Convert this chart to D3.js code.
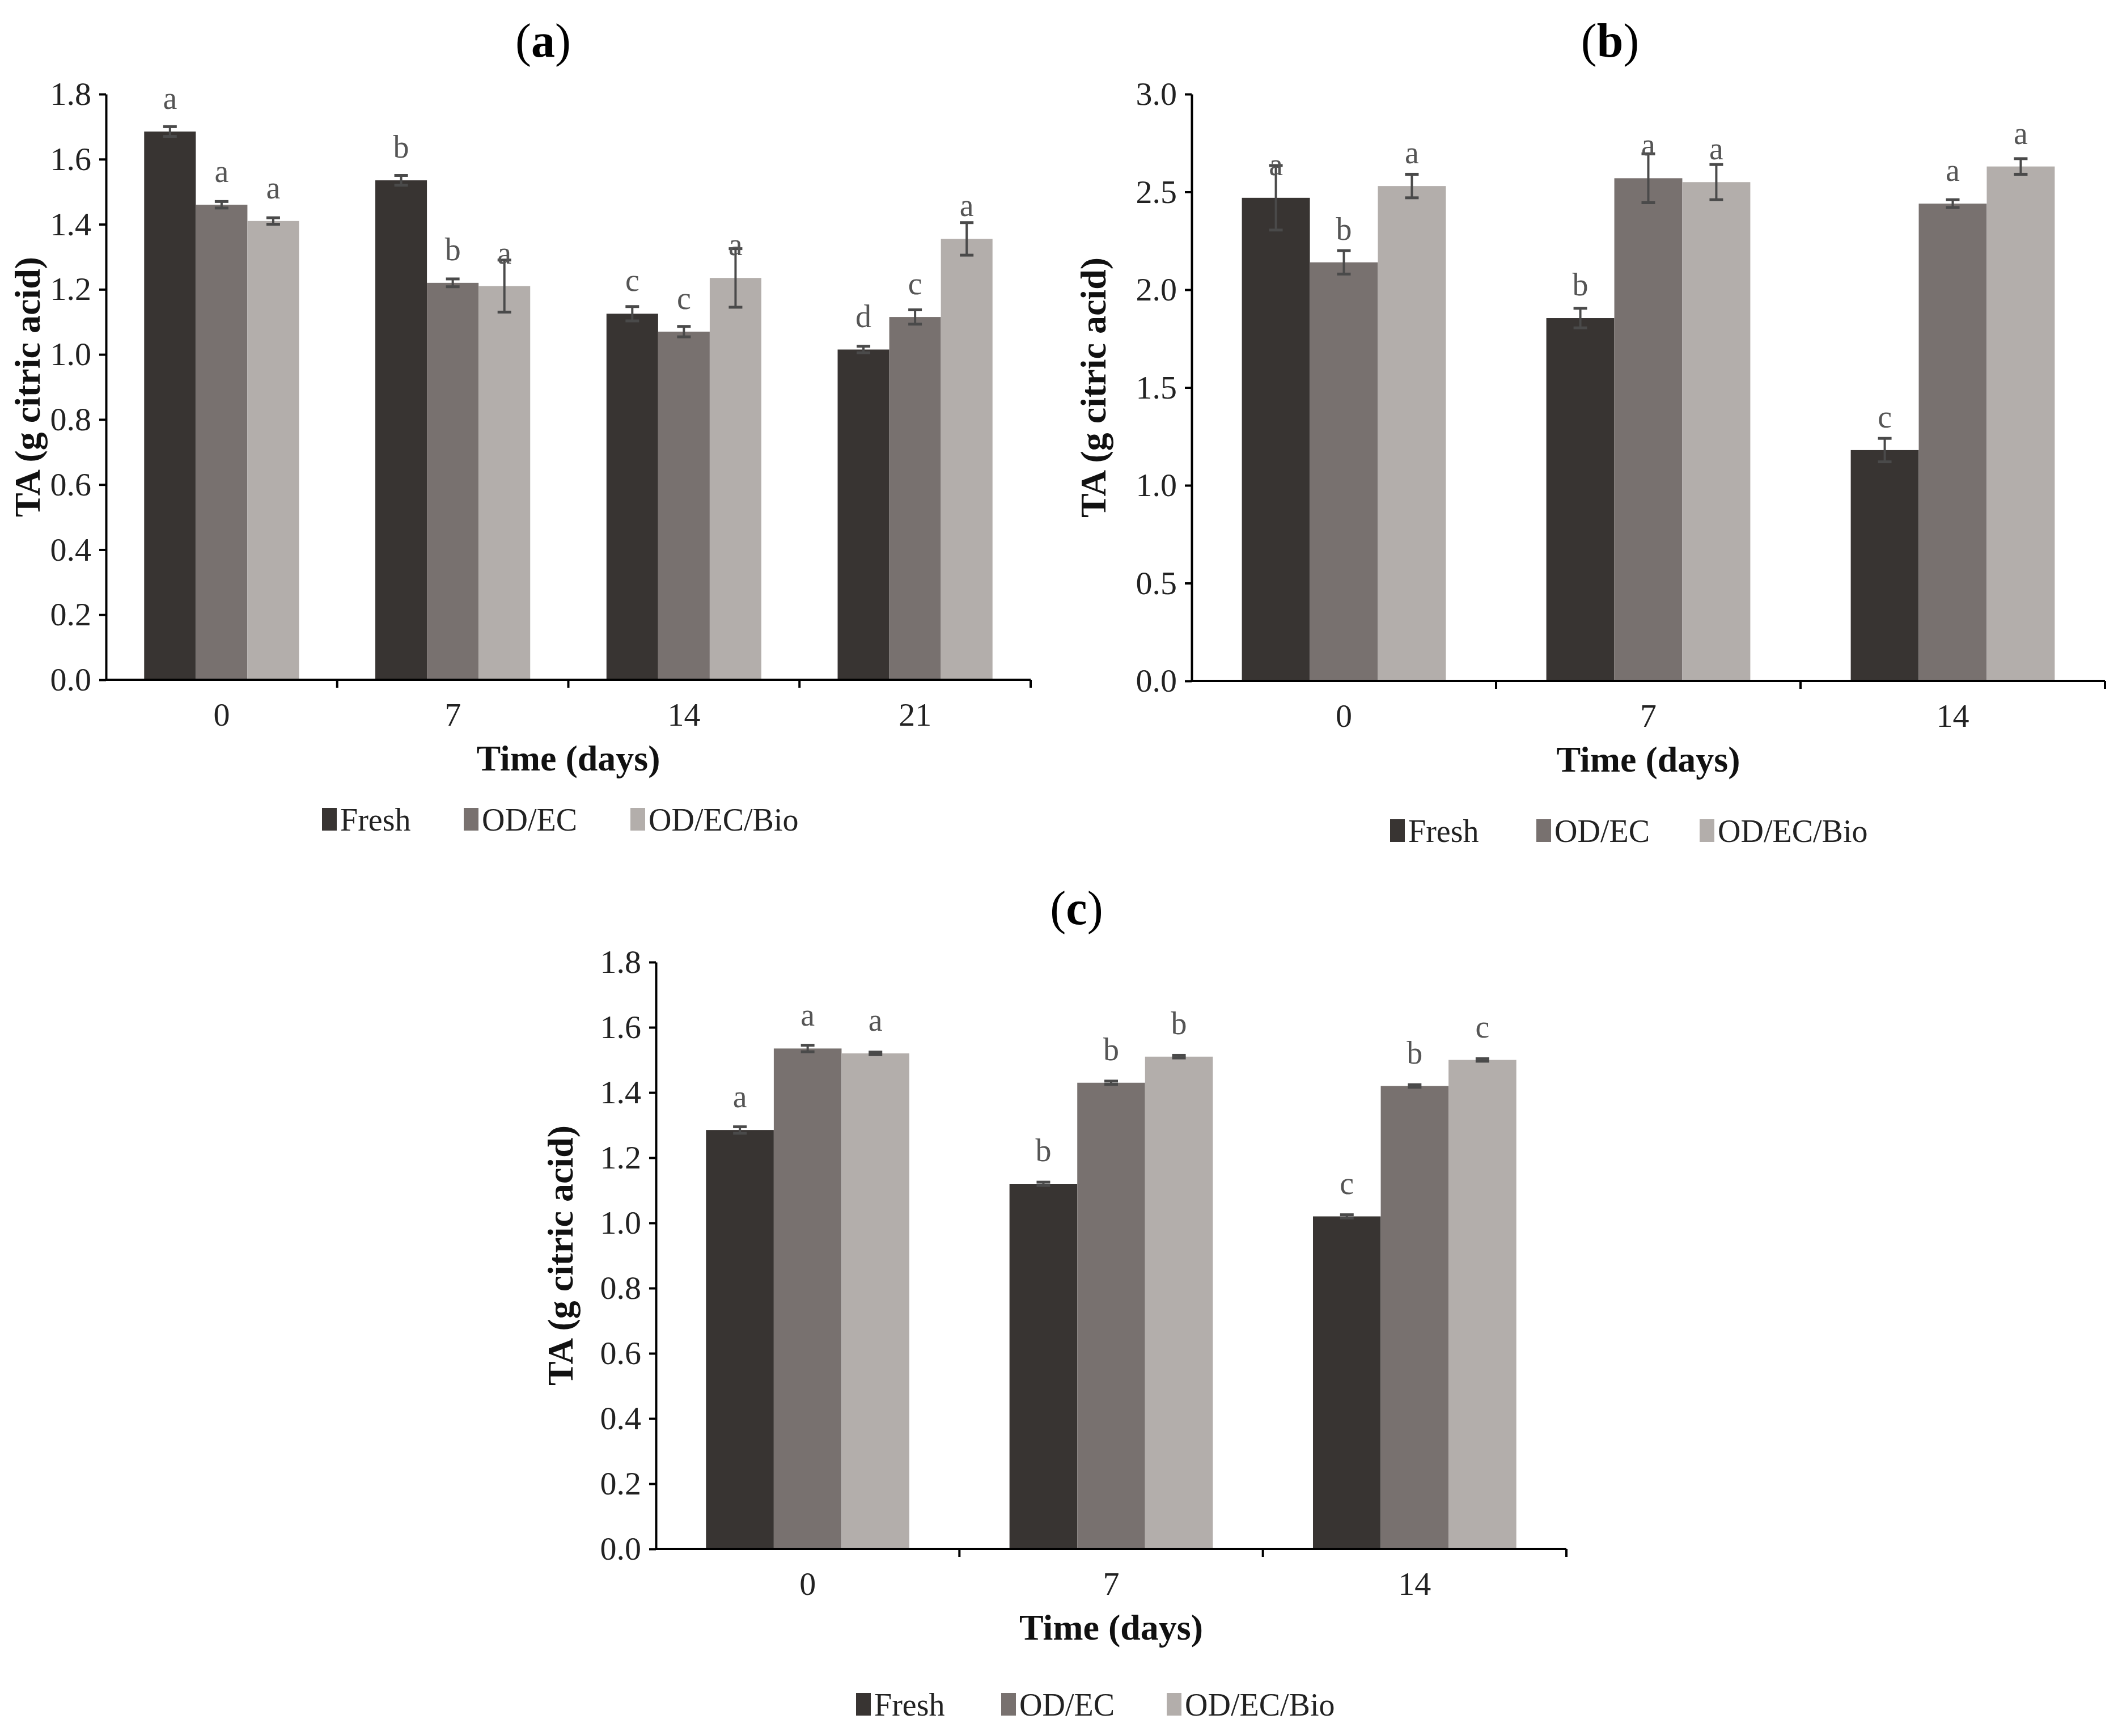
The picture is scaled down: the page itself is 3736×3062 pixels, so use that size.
<!DOCTYPE html>
<html>
<head>
<meta charset="utf-8">
<script src="https://cdn.jsdelivr.net/npm/d3@7"></script>
<style>
  body { margin: 0; background: #fff; }
  text { font-family: "Liberation Serif", "Times New Roman", serif; }
</style>
</head>
<body>
<svg id="chart" width="3736" height="3062"></svg>
<script>
const seriesNames = ['Fresh', 'OD/EC', 'OD/EC/Bio'];
const colors = ['#383432', '#78716f', '#b3aeab'];

// panel (a)
const daysA = ['0', '7', '14', '21'];
const freshA = [1.685, 1.535, 1.125, 1.015];
const odecA = [1.46, 1.22, 1.07, 1.115];
const bioA = [1.41, 1.21, 1.235, 1.355];
const freshErrA = [0.015, 0.015, 0.022, 0.01];
const odecErrA = [0.01, 0.012, 0.016, 0.022];
const bioErrA = [0.01, 0.08, 0.09, 0.05];
const freshLetA = ['a', 'b', 'c', 'd'];
const odecLetA = ['a', 'b', 'c', 'c'];
const bioLetA = ['a', 'a', 'a', 'a'];
const ticksA = [0, 0.2, 0.4, 0.6, 0.8, 1.0, 1.2, 1.4, 1.6, 1.8];

// panel (b)
const daysB = ['0', '7', '14'];
const freshB = [2.47, 1.855, 1.18];
const odecB = [2.14, 2.57, 2.44];
const bioB = [2.53, 2.55, 2.63];
const freshErrB = [0.165, 0.05, 0.06];
const odecErrB = [0.06, 0.125, 0.02];
const bioErrB = [0.06, 0.09, 0.04];
const freshLetB = ['a', 'b', 'c'];
const odecLetB = ['b', 'a', 'a'];
const bioLetB = ['a', 'a', 'a'];
const ticksB = [0, 0.5, 1.0, 1.5, 2.0, 2.5, 3.0];

// panel (c)
const daysC = ['0', '7', '14'];
const freshC = [1.285, 1.12, 1.02];
const odecC = [1.535, 1.43, 1.42];
const bioC = [1.52, 1.51, 1.50];
const freshErrC = [0.01, 0.005, 0.005];
const odecErrC = [0.01, 0.005, 0.004];
const bioErrC = [0.004, 0.004, 0.004];
const freshLetC = ['a', 'b', 'c'];
const odecLetC = ['a', 'b', 'b'];
const bioLetC = ['a', 'b', 'c'];
const ticksC = [0, 0.2, 0.4, 0.6, 0.8, 1.0, 1.2, 1.4, 1.6, 1.8];

const svg = d3.select('#chart');

function drawPanel(cfg) {
  const { title, x0, x1, yTop, yBot, days, values, errs, letters, ticks, titleX, titleY, labelX, legendY, legendX } = cfg;
  const g = svg.append('g');
  const x = d3.scaleBand().domain(days).range([x0, x1]).paddingInner(0.33).paddingOuter(0.165);
  const y = d3.scaleLinear().domain([0, d3.max(ticks)]).range([yBot, yTop]);
  const sub = d3.scaleBand().domain(d3.range(3)).range([0, x.bandwidth()]);

  // bars
  values.forEach((vals, s) => {
    vals.forEach((v, i) => {
      const bx = x(days[i]) + sub(s);
      g.append('rect')
        .attr('x', bx).attr('y', y(v))
        .attr('width', sub.bandwidth()).attr('height', y(0) - y(v))
        .attr('fill', colors[s]);
      const cx = bx + sub.bandwidth() / 2;
      const e = errs[s][i];
      g.append('line').attr('x1', cx).attr('x2', cx).attr('y1', y(v - e)).attr('y2', y(v + e))
        .attr('stroke', '#4a4a4a').attr('stroke-width', 4);
      [v - e, v + e].forEach(t => {
        g.append('line').attr('x1', cx - 12).attr('x2', cx + 12).attr('y1', y(t)).attr('y2', y(t))
          .attr('stroke', '#4a4a4a').attr('stroke-width', 5);
      });
      g.append('text').attr('x', cx).attr('y', y(v) - 40)
        .attr('text-anchor', 'middle').attr('font-size', 56).attr('fill', '#555')
        .text(letters[s][i]);
    });
  });

  // y axis
  const yAxis = g.append('g').attr('transform', `translate(${x0},0)`)
    .call(d3.axisLeft(y).tickValues(ticks).tickFormat(d3.format('.1f')).tickSize(12).tickSizeOuter(0));
  yAxis.select('.domain').attr('stroke', '#000').attr('stroke-width', 4);
  yAxis.selectAll('.tick line').attr('stroke', '#000').attr('stroke-width', 4);
  yAxis.selectAll('.tick text').attr('font-size', 58).attr('fill', '#222').attr('x', -26)
    .style('font-family', '"Liberation Serif", serif');

  // x axis
  const xAxis = g.append('g').attr('transform', `translate(0,${yBot})`)
    .call(d3.axisBottom(x).tickSize(0).tickPadding(40));
  xAxis.select('.domain').attr('stroke', '#000').attr('stroke-width', 4).attr('d', `M${x0},0H${x1}`);
  xAxis.selectAll('.tick text').attr('font-size', 58).attr('fill', '#222')
    .style('font-family', '"Liberation Serif", serif');
  days.forEach((d, i) => {
    if (i === 0) return;
    const bx = x(d) - x.step() * x.paddingInner() / 2;
    g.append('line').attr('x1', bx).attr('x2', bx).attr('y1', yBot).attr('y2', yBot + 14)
      .attr('stroke', '#000').attr('stroke-width', 4);
  });
  g.append('line').attr('x1', x1).attr('x2', x1).attr('y1', yBot).attr('y2', yBot + 14)
    .attr('stroke', '#000').attr('stroke-width', 4);

  // axis titles
  g.append('text').attr('x', (x0 + x1) / 2).attr('y', yBot + 160)
    .attr('text-anchor', 'middle').attr('font-size', 64).attr('font-weight', 'bold').attr('fill', '#111')
    .text('Time (days)');
  g.append('text').attr('transform', `translate(${labelX},${(yTop + yBot) / 2}) rotate(-90)`)
    .attr('text-anchor', 'middle').attr('font-size', 64).attr('font-weight', 'bold').attr('fill', '#111')
    .text('TA (g citric acid)');

  // panel title
  const t = g.append('text').attr('x', titleX).attr('y', titleY).attr('text-anchor', 'middle')
    .attr('font-size', 84).attr('fill', '#000');
  t.append('tspan').text('(');
  t.append('tspan').attr('font-weight', 'bold').text(title);
  t.append('tspan').text(')');

  // legend
  seriesNames.forEach((n, s) => {
    g.append('rect').attr('x', legendX[s]).attr('y', legendY - 40).attr('width', 26).attr('height', 40)
      .attr('fill', colors[s]);
    g.append('text').attr('x', legendX[s] + 32).attr('y', legendY).attr('font-size', 56).attr('fill', '#222')
      .text(n);
  });
}

drawPanel({ title: 'a', x0: 187, x1: 1818, yTop: 166, yBot: 1199, days: daysA,
  values: [freshA, odecA, bioA], errs: [freshErrA, odecErrA, bioErrA], letters: [freshLetA, odecLetA, bioLetA],
  ticks: ticksA, titleX: 958, titleY: 100, labelX: 70, legendY: 1465, legendX: [568, 818, 1112] });

drawPanel({ title: 'b', x0: 2102, x1: 3713, yTop: 166, yBot: 1201, days: daysB,
  values: [freshB, odecB, bioB], errs: [freshErrB, odecErrB, bioErrB], letters: [freshLetB, odecLetB, bioLetB],
  ticks: ticksB, titleX: 2840, titleY: 100, labelX: 1950, legendY: 1485, legendX: [2452, 2710, 2998] });

drawPanel({ title: 'c', x0: 1157, x1: 2763, yTop: 1697, yBot: 2732, days: daysC,
  values: [freshC, odecC, bioC], errs: [freshErrC, odecErrC, bioErrC], letters: [freshLetC, odecLetC, bioLetC],
  ticks: ticksC, titleX: 1899, titleY: 1630, labelX: 1010, legendY: 3026, legendX: [1510, 1766, 2058] });
</script>
</body>
</html>
